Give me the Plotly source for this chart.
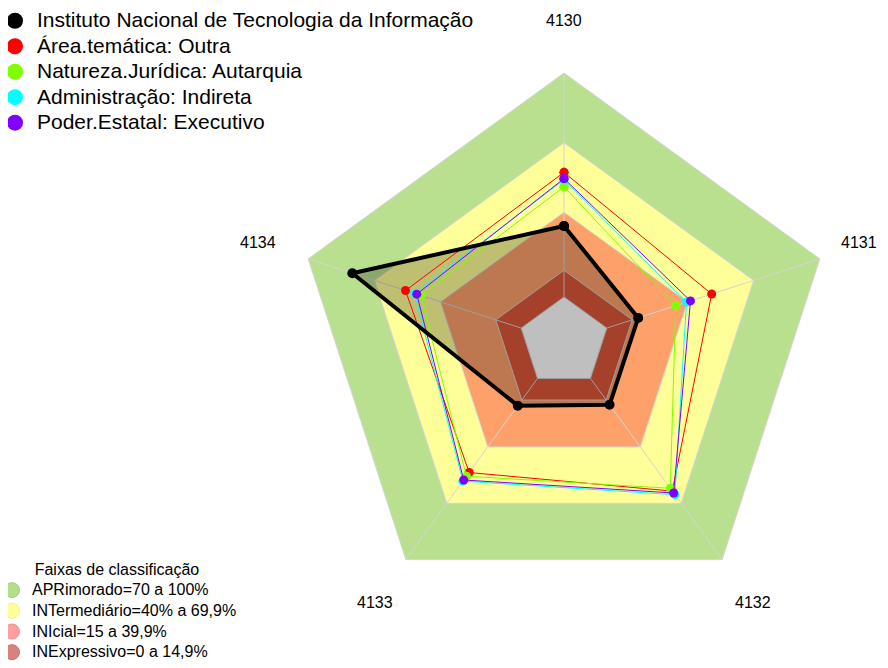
import math
import plotly.graph_objects as go

# ---- data ----
categories = ['4130', '4131', '4132', '4133', '4134']
instituto = [34.1, 17.7, 17.5, 18.0, 80.0]
area_tematica = [57.2, 51.0, 63.5, 53.6, 55.9]
natureza_juridica = [51.0, 34.7, 62.0, 55.6, 48.9]
administracao = [54.0, 39.6, 65.4, 58.2, 51.8]
poder_estatal = [54.5, 41.4, 64.5, 57.6, 50.8]

series_names = ['Instituto Nacional de Tecnologia da Informação',
                'Área.temática: Outra',
                'Natureza.Jurídica: Autarquia',
                'Administração: Indireta',
                'Poder.Estatal: Executivo']
series_values = [instituto, area_tematica, natureza_juridica, administracao, poder_estatal]
series_colors = ['#000000', '#ff0000', '#7fff00', '#00ffff', '#8000ff']

band_limits = [100, 70, 40, 15]
band_names = ['APRimorado=70 a 100%', 'INTermediário=40% a 69,9%',
              'INIcial=15 a 39,9%', 'INExpressivo=0 a 14,9%']
band_fill = ['#b9e08e', '#ffff99', '#fda06a', '#dc5739']
band_legend_colors = ['#b3de8a', '#ffff99', '#ff9f9f', '#d98080']
band_legend_edges = ['#a3cf7a', '#efef88', '#ef8f8f', '#c97070']
center_limit = 3.5
radial_min = -15.9

FONT = 'Arial, Liberation Sans, sans-serif'
W, H = 872, 652
# polar subplot geometry (pixels inside the figure)
CX, CY, R_OUT = 556, 334, 316
R_FULL = 269                      # pixel radius of the 100 % ring
LABEL_RADIUS = 322
LABEL_HALF_WIDTH = 18
radial_range = [radial_min, radial_min + R_OUT * (100 - radial_min) / R_FULL]


def closed(vals):
    return list(vals) + [vals[0]]


theta_closed = closed(categories)
fig = go.Figure()

# bands
for lim, col in zip(band_limits, band_fill):
    fig.add_trace(go.Scatterpolar(
        r=closed([lim] * len(categories)), theta=theta_closed, mode='lines',
        fill='toself', fillcolor=col, line=dict(color='#d4d4d4', width=1),
        showlegend=False, hoverinfo='skip'))
fig.add_trace(go.Scatterpolar(
    r=closed([center_limit] * len(categories)), theta=theta_closed, mode='lines',
    fill='toself', fillcolor='#ffffff', line=dict(color='#d4d4d4', width=1),
    showlegend=False, hoverinfo='skip'))

# spokes
for c in categories:
    fig.add_trace(go.Scatterpolar(
        r=[center_limit, band_limits[0]], theta=[c, c], mode='lines',
        line=dict(color='#d4d4d4', width=1), showlegend=False, hoverinfo='skip'))

# semi-transparent fill of the institute polygon
fig.add_trace(go.Scatterpolar(
    r=closed(instituto), theta=theta_closed, mode='lines', fill='toself',
    fillcolor='rgba(0,0,0,0.25)', line=dict(width=0, color='rgba(0,0,0,0)'),
    showlegend=False, hoverinfo='skip'))

# comparison series
for name, vals, col in list(zip(series_names, series_values, series_colors))[1:]:
    fig.add_trace(go.Scatterpolar(
        r=closed(vals), theta=theta_closed, mode='lines+markers', name=name,
        line=dict(color=col, width=1), marker=dict(color=col, size=9),
        showlegend=False))

# institute
fig.add_trace(go.Scatterpolar(
    r=closed(instituto), theta=theta_closed, mode='lines+markers', name=series_names[0],
    line=dict(color='#000000', width=4), marker=dict(color='#000000', size=10),
    showlegend=False))

# legend entries (series)
for name, col in zip(series_names, series_colors):
    fig.add_trace(go.Scatterpolar(
        r=[None], theta=[None], mode='markers',
        name='<span style="font-size:21px">' + name + '</span>',
        marker=dict(color=col, size=16), legend='legend', showlegend=True))

# legend entries (bands)
for name, col, edge in zip(band_names, band_legend_colors, band_legend_edges):
    fig.add_trace(go.Scatterpolar(
        r=[None], theta=[None], mode='markers',
        name='<span style="font-size:16px">' + name + '</span>',
        marker=dict(color=col, size=15, line=dict(color=edge, width=1)),
        legend='legend2', showlegend=True))

# category labels around the radar (centred on each spoke direction)
annotations = []
n = len(categories)
for i, c in enumerate(categories):
    ang = math.radians(90 - 360.0 * i / n)
    px = CX + LABEL_RADIUS * math.cos(ang)
    py = CY - LABEL_RADIUS * math.sin(ang)
    anchor = 'center'
    if px + LABEL_HALF_WIDTH > W - 1:      # keep the label inside the figure
        px, anchor = W - 1, 'right'
    annotations.append(dict(
        text=c, x=px / W, y=1 - py / H, xref='paper', yref='paper',
        xanchor=anchor, yanchor='middle', showarrow=False,
        font=dict(size=16, color='#000000', family=FONT)))

fig.update_layout(
    width=W, height=H,
    margin=dict(l=0, r=0, t=0, b=0, autoexpand=False),
    paper_bgcolor='white', plot_bgcolor='white',
    font=dict(family=FONT, color='#000000'),
    polar=dict(
        domain=dict(x=[(CX - R_OUT) / W, min(1, (CX + R_OUT) / W)],
                    y=[1 - (CY + R_OUT) / H, 1 - (CY - R_OUT) / H]),
        bgcolor='rgba(0,0,0,0)',
        gridshape='linear',
        radialaxis=dict(visible=False, range=radial_range),
        angularaxis=dict(direction='clockwise', rotation=90, showgrid=False,
                         showline=False, ticks='', type='category',
                         showticklabels=False),
    ),
    annotations=annotations,
    legend=dict(x=-15 / W, y=1 + 5 / H, xanchor='left', yanchor='top',
                bgcolor='rgba(0,0,0,0)', font=dict(size=17.3, family=FONT),
                itemwidth=34),
    legend2=dict(x=-16 / W, y=-8 / H, xanchor='left', yanchor='bottom',
                 bgcolor='rgba(0,0,0,0)', font=dict(size=13.6, family=FONT),
                 itemwidth=30,
                 title=dict(text='Faixas de classificação', side='top center',
                            font=dict(size=16, family=FONT))),
)

fig.write_html('out.html')
